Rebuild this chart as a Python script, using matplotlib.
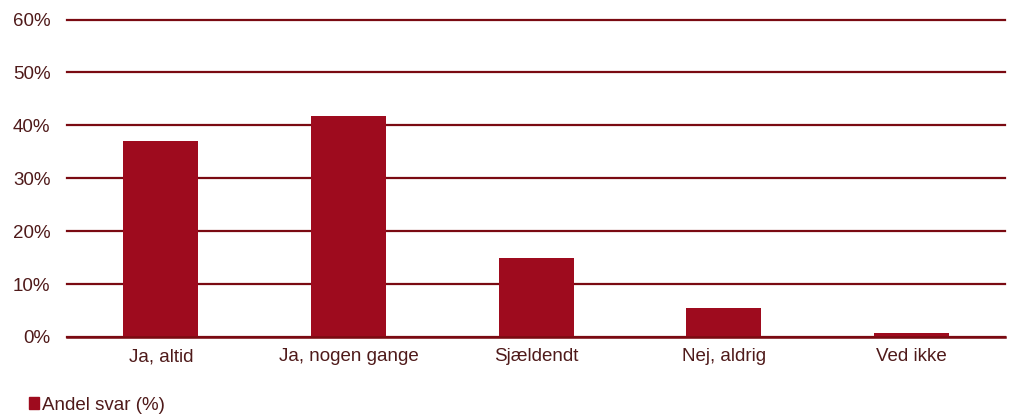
import matplotlib.pyplot as plt
from matplotlib.patches import Patch

categories = ['Ja, altid', 'Ja, nogen gange', 'Sjældendt', 'Nej, aldrig', 'Ved ikke']
values = [37.1, 41.7, 14.9, 5.4, 0.8]
yticks = [0, 10, 20, 30, 40, 50, 60]

bar_color = '#9E0B1E'
grid_color = '#7A0A12'
text_color = '#4F1A1A'

plt.rcParams['font.family'] = ['Liberation Sans', 'DejaVu Sans']

fig = plt.figure(figsize=(10.11, 4.16), dpi=100)
ax = fig.add_axes([0.0663, 0.19, 0.928, 0.763])

x = range(len(categories))
ax.bar(x, values, width=0.4, color=bar_color, zorder=3)

ax.set_ylim(0, 60)
ax.set_xlim(-0.5, len(categories) - 0.5)
ax.set_yticks(yticks)
ax.set_yticklabels([f'{v}%' for v in yticks])
ax.set_xticks(list(x))
ax.set_xticklabels(categories)
ax.yaxis.grid(True, color=grid_color, linewidth=1.6, zorder=0)
ax.set_axisbelow(True)
for gl in ax.yaxis.get_gridlines():
    gl.set_clip_on(False)

for s in ['top', 'right', 'left']:
    ax.spines[s].set_visible(False)
ax.spines['bottom'].set_color(grid_color)
ax.spines['bottom'].set_linewidth(1.8)
ax.spines['bottom'].set_zorder(4)

ax.tick_params(axis='both', length=0, labelsize=13.5, colors=text_color)
ax.tick_params(axis='y', pad=12)
ax.tick_params(axis='x', pad=8)

fig.legend(handles=[Patch(color=bar_color, label='Andel svar (%)')],
           loc='lower left', bbox_to_anchor=(0.012, -0.035), frameon=False,
           fontsize=13.5, handlelength=0.55, handleheight=0.55, handletextpad=0.15,
           labelcolor=text_color)

fig.savefig('out.png', dpi=100)
